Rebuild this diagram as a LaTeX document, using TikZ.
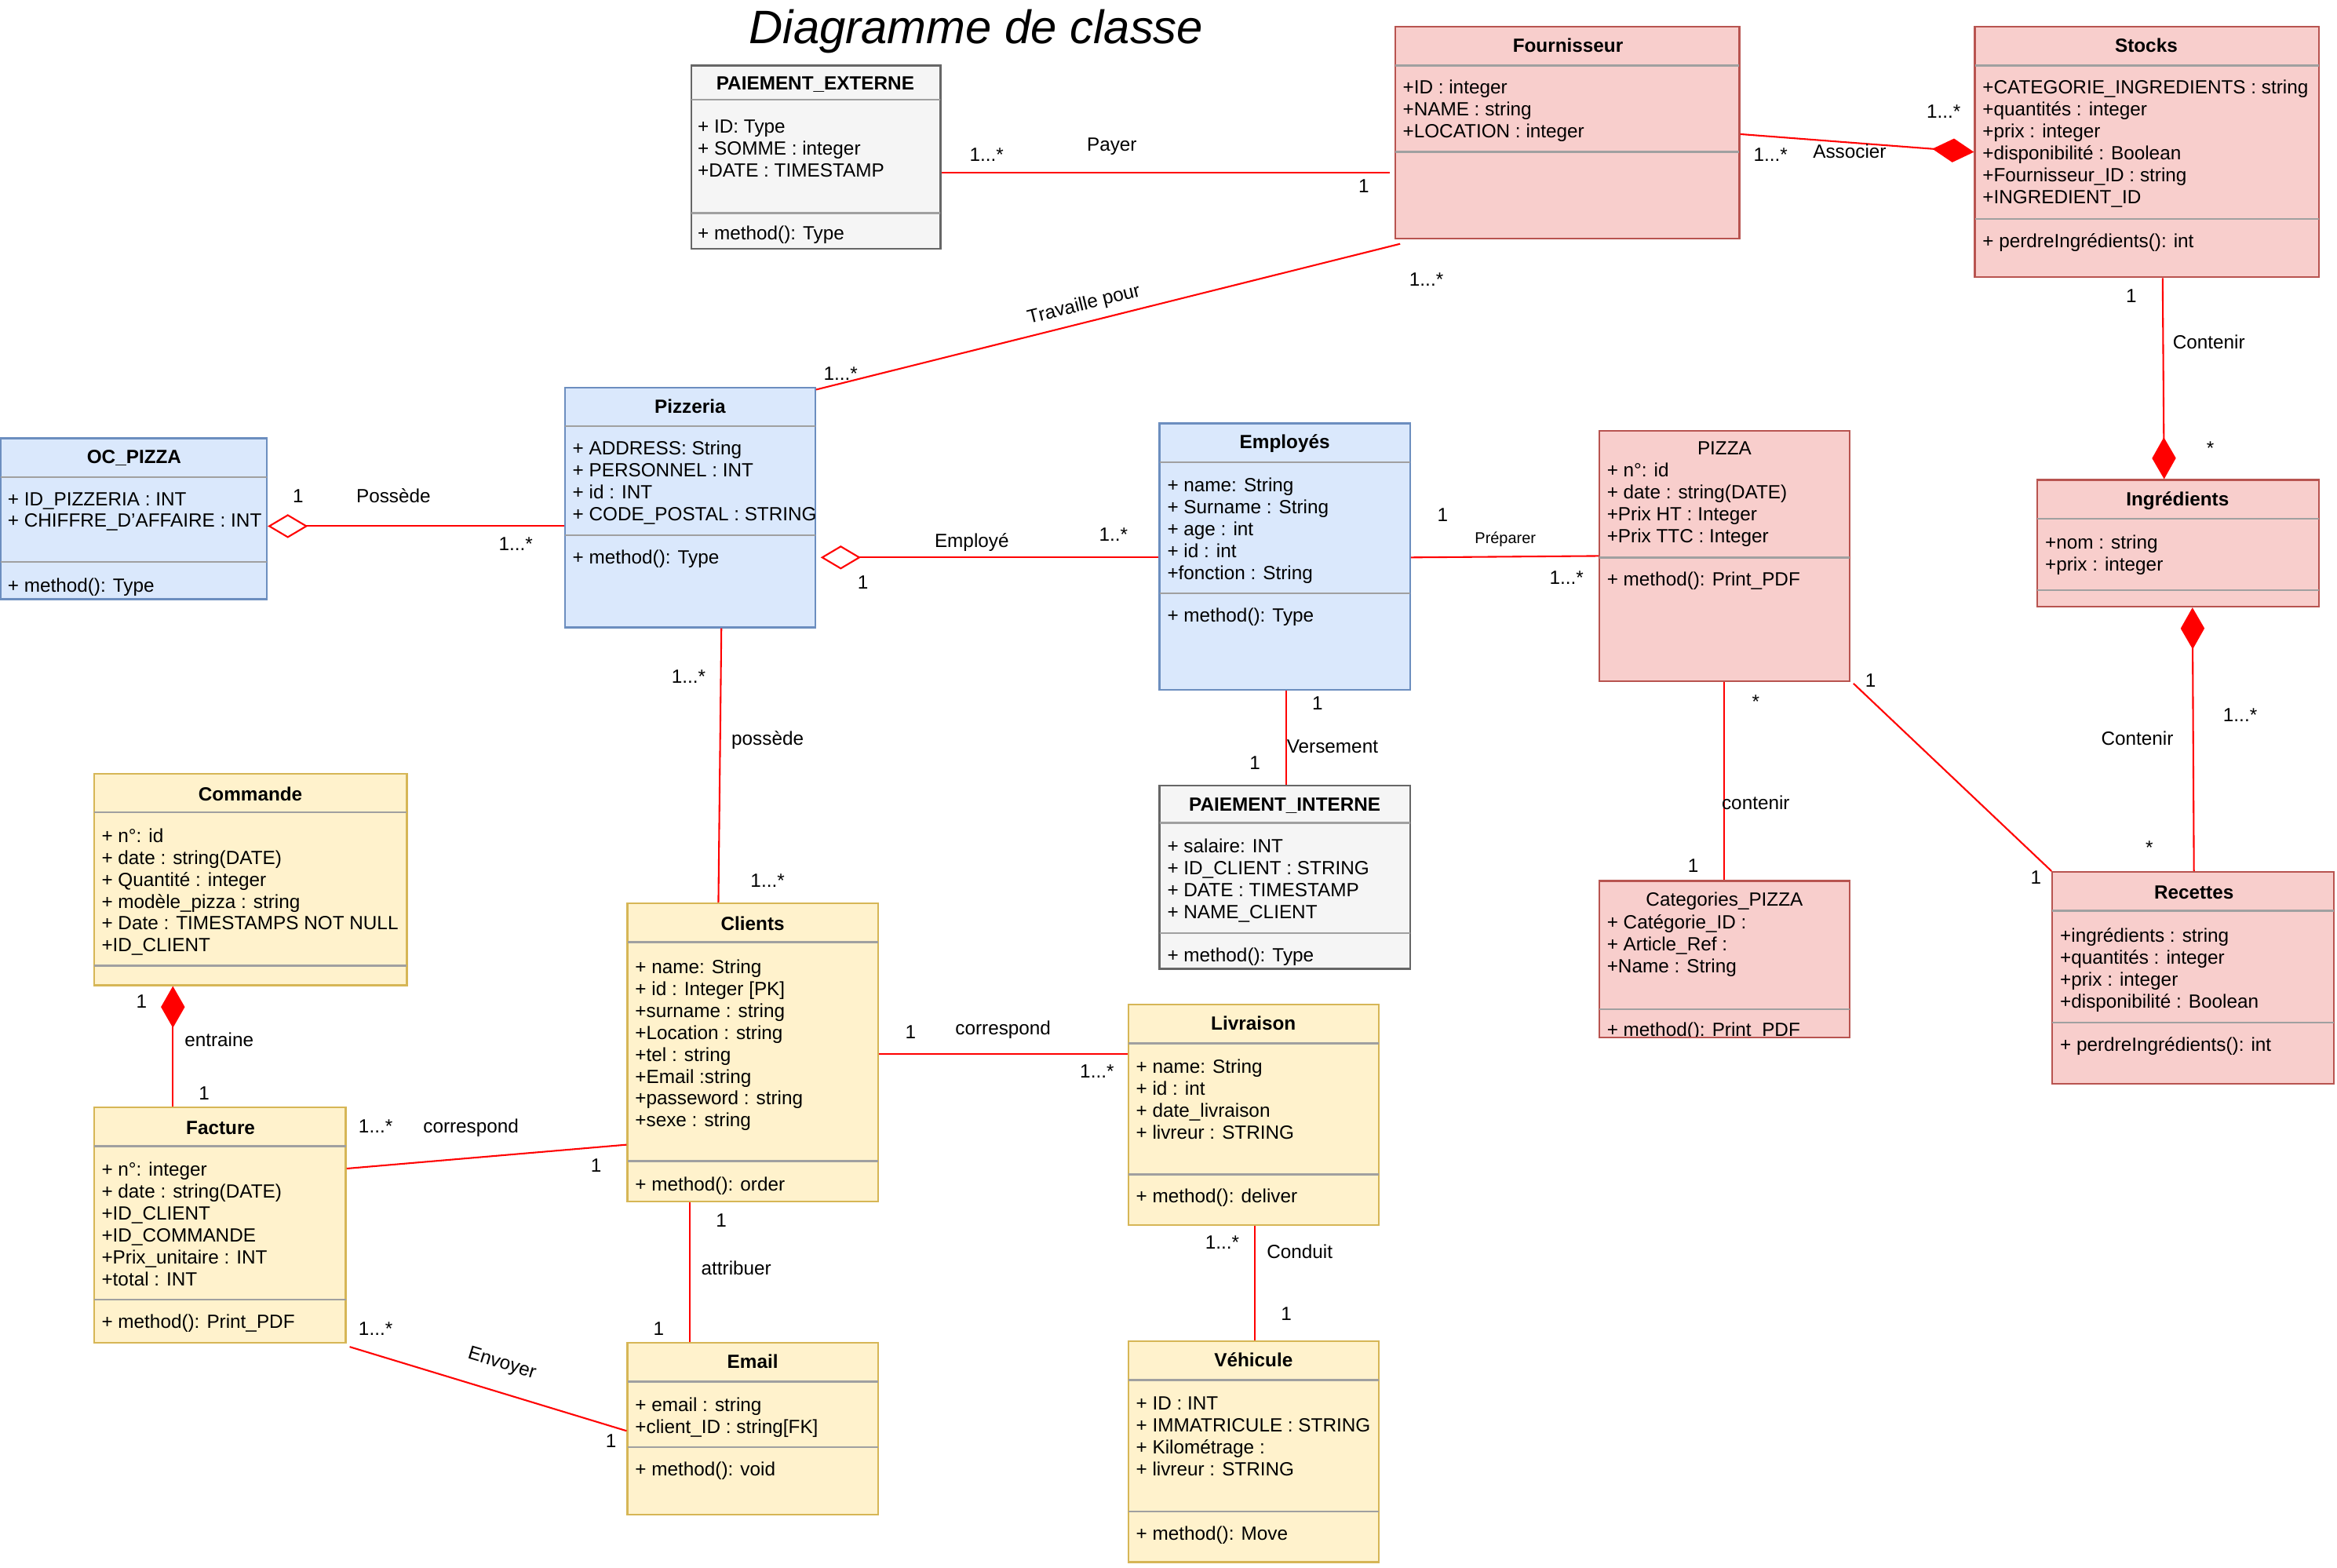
\documentclass[tikz,border=0pt]{standalone}
\usepackage{fontspec}
\setmainfont{Liberation Sans}
\usetikzlibrary{arrows.meta,fit}
\definecolor{bfill}{HTML}{DAE8FC}\definecolor{bdraw}{HTML}{6C8EBF}
\definecolor{rfill}{HTML}{F8CECC}\definecolor{rdraw}{HTML}{B85450}
\definecolor{yfill}{HTML}{FFF2CC}\definecolor{ydraw}{HTML}{D6B656}
\definecolor{gfill}{HTML}{F5F5F5}\definecolor{gdraw}{HTML}{666666}
\definecolor{sepcol}{HTML}{A0A0A0}
\definecolor{linkred}{HTML}{FF0000}
\tikzset{
  boxbase/.style={rectangle, inner sep=0pt, line width=1.2pt},
  bluebox/.style={boxbase, draw=bdraw, fill=bfill},
  redbox/.style={boxbase, draw=rdraw, fill=rfill},
  yellowbox/.style={boxbase, draw=ydraw, fill=yfill},
  graybox/.style={boxbase, draw=gdraw, fill=gfill},
  sepline/.style={draw=sepcol, line width=1.3pt},
  txtbase/.style={inner sep=0pt, text height=8.6pt, text depth=0pt, yshift=-0.8pt, font=\fontsize{12.8}{14.7}\selectfont},
  attr/.style={txtbase, anchor=west},
  ctitle/.style={txtbase, anchor=center, font=\fontsize{12.8}{14.7}\selectfont\bfseries},
  ntitle/.style={txtbase, anchor=center},
  lab/.style={txtbase, anchor=center},
  smalllab/.style={anchor=center, inner sep=0pt, font=\fontsize{10.5}{12}\selectfont},
  conn/.style={draw=linkred, line width=1.1pt},
  fulldiam/.tip={Diamond[length=28pt, width=16pt, fill=linkred]},
  opendiam/.tip={Diamond[length=27pt, width=16pt, open, fill=white]},
}
\newcommand\umlbox[6]{\node[#2, fit={(#3,#4)(#5,#6)}] (#1) {};}
\newcommand\umlsep[3]{\draw[sepline] (#1,#3) -- (#2,#3);}
\newcommand\umllines[4]{\foreach \mytext [count=\i] in {#4} {\node[attr] (#1-\i) at (#2,{#3+(\i-1)*14.7}) {\mytext};}}
\begin{document}
\begin{tikzpicture}[x=1pt,y=-1pt]
\useasboundingbox (0,0) rectangle (1568,1052);

% Title
\node[inner sep=0pt, font=\fontsize{31.5}{36}\selectfont\itshape] (title) at (655,21) {Diagramme de classe};

% PAIEMENT_EXTERNE
\umlbox{pe}{graybox}{464}{44}{631}{167}
\node[ctitle] (pe-t) at (547,55) {PAIEMENT\_EXTERNE};
\umlsep{464}{631}{67}\umlsep{464}{631}{143}
\umllines{pe}{468}{84}{{+ ID: Type},{+ SOMME : integer},{+DATE : TIMESTAMP}}
\node[attr] (pe-m) at (468,156) {+ method(): Type};

% Fournisseur
\umlbox{fo}{redbox}{936}{18}{1167}{160}
\node[ctitle] (fo-t) at (1052,30) {Fournisseur};
\umlsep{936}{1167}{44}\umlsep{936}{1167}{102}
\umllines{fo}{941}{58}{{+ID : integer},{+NAME : string},{+LOCATION : integer}}

% Stocks
\umlbox{st}{redbox}{1325}{18}{1556}{186}
\node[ctitle] (st-t) at (1440,30) {Stocks};
\umlsep{1325}{1556}{44}\umlsep{1325}{1556}{147}
\umllines{st}{1330}{58}{{+CATEGORIE\_INGREDIENTS : string},{+quantités : integer},{+prix : integer},{+disponibilité : Boolean},{+Fournisseur\_ID : string},{+INGREDIENT\_ID}}
\node[attr] (st-m) at (1330,161) {+ perdreIngrédients(): int};

% Pizzeria
\umlbox{pz}{bluebox}{379}{260}{547}{421}
\node[ctitle] (pz-t) at (463,272) {Pizzeria};
\umlsep{379}{547}{286}\umlsep{379}{547}{359}
\umllines{pz}{384}{300}{{+ ADDRESS: String},{+ PERSONNEL : INT},{+ id : INT},{+ CODE\_POSTAL : STRING}}
\node[attr] (pz-m) at (384,373) {+ method(): Type};

% OC_PIZZA
\umlbox{oc}{bluebox}{0.7}{294}{179}{402}
\node[ctitle] (oc-t) at (90,306) {OC\_PIZZA};
\umlsep{0.7}{179}{320}\umlsep{0.7}{179}{377}
\umllines{oc}{5}{334}{{+ ID\_PIZZERIA : INT},{+ CHIFFRE\_D'AFFAIRE : INT}}
\node[attr] (oc-m) at (5,392) {+ method(): Type};

% Employés
\umlbox{em}{bluebox}{778}{284}{946}{463}
\node[ctitle] (em-t) at (862,296) {Employés};
\umlsep{778}{946}{310}\umlsep{778}{946}{398}
\umllines{em}{783}{325}{{+ name: String},{+ Surname : String},{+ age : int},{+ id : int},{+fonction : String}}
\node[attr] (em-m) at (783,412) {+ method(): Type};

% PIZZA
\umlbox{pi}{redbox}{1073}{289}{1241}{457}
\node[ntitle] (pi-t) at (1157,300) {PIZZA};
\umllines{pi}{1078}{315}{{+ n°: id},{+ date : string(DATE)},{+Prix HT : Integer},{+Prix TTC : Integer}}
\umlsep{1073}{1241}{374}
\node[attr] (pi-m) at (1078,388) {+ method(): Print\_PDF};

% Ingrédients
\umlbox{in}{redbox}{1367}{322}{1556}{407}
\node[ctitle] (in-t) at (1461,334) {Ingrédients};
\umlsep{1367}{1556}{348}\umlsep{1367}{1556}{396}
\umllines{in}{1372}{363}{{+nom : string},{+prix : integer}}

% PAIEMENT_INTERNE
\umlbox{pin}{graybox}{778}{527}{946}{650}
\node[ctitle] (pin-t) at (862,539) {PAIEMENT\_INTERNE};
\umlsep{778}{946}{552}\umlsep{778}{946}{626}
\umllines{pin}{783}{567}{{+ salaire: INT},{+ ID\_CLIENT : STRING},{+ DATE : TIMESTAMP},{+ NAME\_CLIENT}}
\node[attr] (pin-m) at (783,640) {+ method(): Type};

% Categories_PIZZA
\umlbox{cp}{redbox}{1073}{591}{1241}{696}
\node[ntitle] (cp-t) at (1157,603) {Categories\_PIZZA};
\umllines{cp}{1078}{618}{{+ Catégorie\_ID :},{+ Article\_Ref :},{+Name : String}}
\umlsep{1073}{1241}{677}
\begin{scope}
\clip (1073,677) rectangle (1241,695.5);
\node[attr] (cp-m) at (1078,690) {+ method(): Print\_PDF};
\end{scope}

% Recettes
\umlbox{re}{redbox}{1377}{585}{1566}{727}
\node[ctitle] (re-t) at (1472,598) {Recettes};
\umlsep{1377}{1566}{611}\umlsep{1377}{1566}{686}
\umllines{re}{1382}{627}{{+ingrédients : string},{+quantités : integer},{+prix : integer},{+disponibilité : Boolean}}
\node[attr] (re-m) at (1382,700) {+ perdreIngrédients(): int};

% Commande
\umlbox{co}{yellowbox}{63}{519}{273}{661}
\node[ctitle] (co-t) at (168,532) {Commande};
\umlsep{63}{273}{545}\umlsep{63}{273}{648}
\umllines{co}{68}{560}{{+ n°: id},{+ date : string(DATE)},{+ Quantité : integer},{+ modèle\_pizza : string},{+ Date : TIMESTAMPS NOT NULL},{+ID\_CLIENT}}

% Clients
\umlbox{cl}{yellowbox}{421}{606}{589}{806}
\node[ctitle] (cl-t) at (505,619) {Clients};
\umlsep{421}{589}{632}\umlsep{421}{589}{779}
\umllines{cl}{426}{648}{{+ name: String},{+ id : Integer [PK]},{+surname : string},{+Location : string},{+tel : string},{+Email :string},{+passeword : string},{+sexe : string}}
\node[attr] (cl-m) at (426,794) {+ method(): order};

% Livraison
\umlbox{lv}{yellowbox}{757}{674}{925}{822}
\node[ctitle] (lv-t) at (841,686) {Livraison};
\umlsep{757}{925}{700}\umlsep{757}{925}{788}
\umllines{lv}{762}{715}{{+ name: String},{+ id : int},{+ date\_livraison},{+ livreur : STRING}}
\node[attr] (lv-m) at (762,802) {+ method(): deliver};

% Facture
\umlbox{fa}{yellowbox}{63}{743}{232}{901}
\node[ctitle] (fa-t) at (148,756) {Facture};
\umlsep{63}{232}{769}\umlsep{63}{232}{872}
\umllines{fa}{68}{784}{{+ n°: integer},{+ date : string(DATE)},{+ID\_CLIENT},{+ID\_COMMANDE},{+Prix\_unitaire : INT},{+total : INT}}
\node[attr] (fa-m) at (68,886) {+ method(): Print\_PDF};

% Email
\umlbox{ml}{yellowbox}{421}{901}{589}{1016}
\node[ctitle] (ml-t) at (505,913) {Email};
\umlsep{421}{589}{927}\umlsep{421}{589}{971}
\umllines{ml}{426}{942}{{+ email : string},{+client\_ID : string[FK]}}
\node[attr] (ml-m) at (426,985) {+ method(): void};

% Véhicule
\umlbox{ve}{yellowbox}{757}{900}{925}{1048}
\node[ctitle] (ve-t) at (841,912) {Véhicule};
\umlsep{757}{925}{926}\umlsep{757}{925}{1014}
\umllines{ve}{762}{941}{{+ ID : INT},{+ IMMATRICULE : STRING},{+ Kilométrage :},{+ livreur : STRING}}
\node[attr] (ve-m) at (762,1028) {+ method(): Move};

% ---------- connectors ----------
% 1 Payer
\draw[conn] (pe.east |- 0,116) -- ([xshift=-3pt]fo.west |- 0,116);
\node[lab] (l1a) at (662,103) {1...*};
\node[lab] (l1b) at (746,96) {Payer};
\node[lab] (l1c) at (915,124) {1};
% 2 Associer
\draw[conn, -fulldiam] (fo.east |- 0,90) -- (st.west |- 0,102);
\node[lab] (l2a) at (1304,74) {1...*};
\node[lab] (l2b) at (1188,103) {1...*};
\node[lab] (l2c) at (1241,101) {Associer};
% 3 Travaille pour
\draw[conn] ([yshift=-2pt]pz.north east) -- ([xshift=4pt,yshift=-3pt]fo.south west);
\node[lab, rotate=14] (l3a) at (727,203) {\addfontfeatures{Kerning=Off}Travaille pour};
\node[lab] (l3b) at (564,250) {1...*};
\node[lab] (l3c) at (957,187) {1...*};
% 4 Possède
\draw[conn, opendiam-] (oc.east |- 0,353) -- (pz.west |- 0,353);
\node[lab] (l4a) at (200,332) {1};
\node[lab] (l4b) at (264,332) {Possède};
\node[lab] (l4c) at (346,364) {1...*};
% 5 Employé
\draw[conn, opendiam-] ([xshift=3pt]pz.east |- 0,374) -- (em.west |- 0,374);
\node[lab] (l5a) at (652,362) {Employé};
\node[lab] (l5b) at (747,358) {1..*};
\node[lab] (l5c) at (579,390) {1};
% 6 Préparer
\draw[conn] (em.east |- 0,374) -- (pi.west |- 0,373);
\node[lab] (l6a) at (968,345) {1};
\node[smalllab] (l6b) at (1010,362) {Préparer};
\node[lab] (l6c) at (1051,387) {1...*};
% 7 Contenir (Stocks - Ingrédients)
\draw[conn, -fulldiam] (1451,0 |- st.south) -- (1452,0 |- in.north);
\node[lab] (l7a) at (1430,198) {1};
\node[lab] (l7b) at (1482,229) {Contenir};
\node[lab] (l7c) at (1483,300) {*};
% 8 Contenir (Ingrédients - Recettes)
\draw[conn, fulldiam-] (1471,0 |- in.south) -- (1472,0 |- re.north);
\node[lab] (l8a) at (1434,495) {Contenir};
\node[lab] (l8b) at (1503,479) {1...*};
\node[lab] (l8c) at (1442,568) {*};
% 9 contenir (PIZZA - Categories)
\draw[conn] (1157,0 |- pi.south) -- (1157,0 |- cp.north);
\node[lab] (l9a) at (1178,470) {*};
\node[lab] (l9b) at (1178,538) {contenir};
\node[lab] (l9c) at (1136,580) {1};
% 10 PIZZA - Recettes
\draw[conn] ([xshift=2pt,yshift=-1pt]pi.south east) -- (re.north west);
\node[lab] (l10a) at (1255,456) {1};
\node[lab] (l10b) at (1366,588) {1};
% 11 Versement
\draw[conn] (863,0 |- em.south) -- (863,0 |- pin.north);
\node[lab] (l11a) at (884,471) {1};
\node[lab] (l11b) at (894,500) {Versement};
\node[lab] (l11c) at (842,511) {1};
% 12 possède
\draw[conn] (484,0 |- pz.south) -- (482,0 |- cl.north);
\node[lab] (l12a) at (462,453) {1...*};
\node[lab] (l12b) at (515,495) {possède};
\node[lab] (l12c) at (515,590) {1...*};
% 13 correspond (Clients - Livraison)
\draw[conn] (cl.east |- 0,707) -- (lv.west |- 0,707);
\node[lab] (l13a) at (611,692) {1};
\node[lab] (l13b) at (673,689) {correspond};
\node[lab] (l13c) at (736,718) {1...*};
% 14 entraine
\draw[conn, fulldiam-] (116,0 |- co.south) -- (116,0 |- fa.north);
\node[lab] (l14a) at (95,671) {1};
\node[lab] (l14b) at (147,697) {entraine};
\node[lab] (l14c) at (137,733) {1};
% 15 correspond (Facture - Clients)
\draw[conn] (fa.east |- 0,784) -- (cl.west |- 0,768);
\node[lab] (l15a) at (252,755) {1...*};
\node[lab] (l15b) at (316,755) {correspond};
\node[lab] (l15c) at (400,781) {1};
% 16 attribuer
\draw[conn] (463,0 |- cl.south) -- (463,0 |- ml.north);
\node[lab] (l16a) at (484,818) {1};
\node[lab] (l16b) at (494,850) {attribuer};
\node[lab] (l16c) at (442,891) {1};
% 17 Envoyer
\draw[conn] ([xshift=2pt,yshift=-2pt]fa.south east) -- (ml.west |- 0,960);
\node[lab] (l17a) at (252,891) {1...*};
\node[lab, rotate=-17] (l17b) at (337,913) {\addfontfeatures{Kerning=Off}Envoyer};
\node[lab] (l17c) at (410,966) {1};
% 18 Conduit
\draw[conn] (842,0 |- lv.south) -- (842,0 |- ve.north);
\node[lab] (l18a) at (820,833) {1...*};
\node[lab] (l18b) at (872,839) {Conduit};
\node[lab] (l18c) at (863,881) {1};
\end{tikzpicture}
\end{document}
